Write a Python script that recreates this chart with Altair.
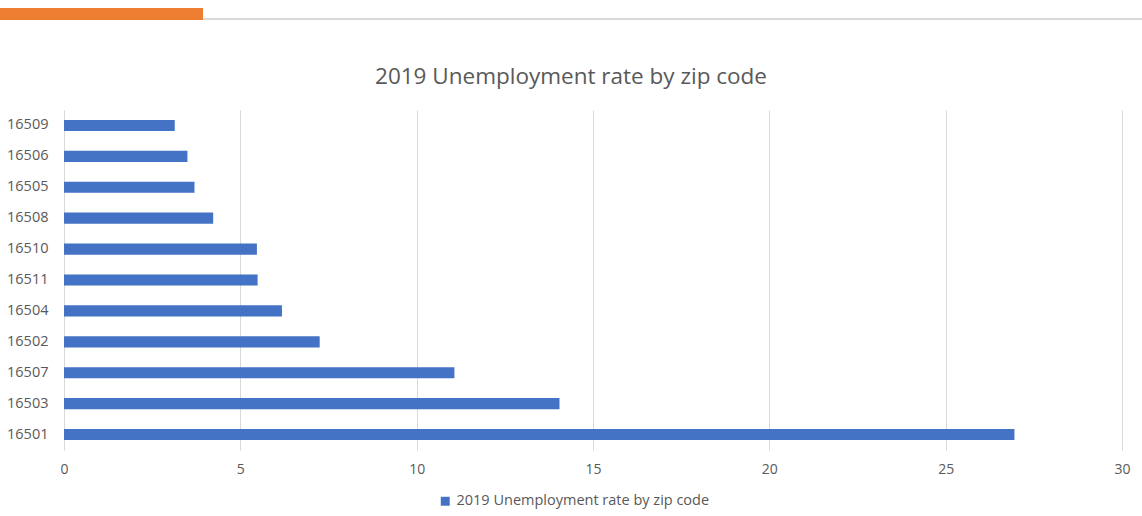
import altair as alt
import pandas as pd

zips = ["16509", "16506", "16505", "16508", "16510", "16511", "16504", "16502", "16507", "16503", "16501"]
rates = [3.14, 3.50, 3.70, 4.23, 5.47, 5.49, 6.18, 7.25, 11.07, 14.05, 26.95]
series_name = "2019 Unemployment rate by zip code"
x_ticks = [0, 5, 10, 15, 20, 25, 30]

df = pd.DataFrame({"zip": zips, "rate": rates, "series": [series_name] * len(zips)})

FONT = "Open Sans"
GREY = "#595959"

bars = alt.Chart(df).mark_bar(color="#4472C4").encode(
    y=alt.Y("zip:N", sort=zips, title=None,
            scale=alt.Scale(paddingInner=0.64, paddingOuter=0.32),
            axis=alt.Axis(labelFont=FONT, labelFontSize=14.5, labelColor=GREY,
                          labelPadding=16, ticks=False, domain=False, grid=False)),
    x=alt.X("rate:Q", title=None,
            scale=alt.Scale(domain=[0, 30], nice=False),
            axis=alt.Axis(values=x_ticks, labelFont=FONT, labelFontSize=14, labelColor=GREY,
                          labelPadding=12, ticks=False, domain=False, labelFlush=False,
                          grid=True, gridColor="#D9D9D9", gridWidth=1)),
    color=alt.Color("series:N", scale=alt.Scale(range=["#4472C4"]), title=None,
                    legend=alt.Legend(orient="none", legendX=374, legendY=384,
                                      direction="horizontal", symbolType="square",
                                      symbolSize=80, symbolStrokeWidth=0, labelLimit=400,
                                      labelFont=FONT, labelFontSize=14.5, labelColor=GREY)),
)

deco = pd.DataFrame({"k": [0]})
orange = alt.Chart(deco).mark_rect(color="#ED7D31").encode(
    x=alt.value(-64), x2=alt.value(139), y=alt.value(-102), y2=alt.value(-90)
)
greyline = alt.Chart(deco).mark_rect(color="#D9D9D9").encode(
    x=alt.value(139), x2=alt.value(1078), y=alt.value(-92), y2=alt.value(-90)
)
title = alt.Chart(deco).mark_text(font=FONT, fontSize=22.5, color=GREY, align="center",
                                  baseline="middle").encode(
    x=alt.value(507), y=alt.value(-33), text=alt.value(series_name)
)

chart = alt.layer(bars, orange, greyline, title).properties(
    width=1058, height=340,
    autosize=alt.AutoSizeParams(type="none"),
    padding={"left": 64, "top": 110, "right": 20, "bottom": 66},
).configure(background="white").configure_view(strokeWidth=0)

chart.save("out.html", embed_options={"renderer": "svg", "actions": False})
